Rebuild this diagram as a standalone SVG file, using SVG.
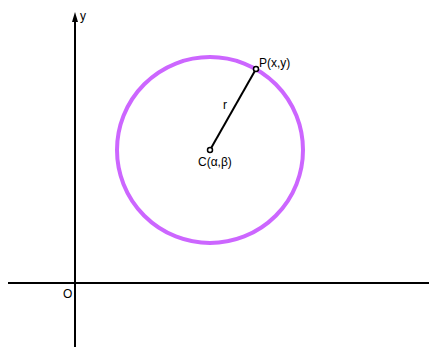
<svg xmlns="http://www.w3.org/2000/svg" width="429" height="347" viewBox="0 0 429 347">
<style>
text{font-family:"Liberation Sans",Arial,sans-serif;font-size:12px;fill:#000}
.axis{stroke:#000;stroke-width:2;fill:none}
.pt{fill:#fff;stroke:#000;stroke-width:1.5}
</style>
<rect width="429" height="347" fill="#fff"/>
<g id="axes">
<line class="axis" x1="75" y1="347" x2="75" y2="20"/>
<path d="M72,22 L75,12 L78,22 Z" fill="#000"/>
<line class="axis" x1="8" y1="283" x2="429" y2="283"/>
<text x="80" y="20">y</text>
<text x="63" y="298">O</text>
</g>
<g id="circle">
<circle cx="210" cy="150" r="93" fill="none" stroke="#cc66ff" stroke-width="4"/>
</g>
<g id="connectors">
<line x1="210" y1="150" x2="256" y2="69" stroke="#000" stroke-width="2"/>
</g>
<g id="center">
<circle class="pt" cx="210" cy="150" r="2.5"/>
<text x="198" y="166">C(α,β)</text>
</g>
<g id="point">
<circle class="pt" cx="256" cy="69" r="2.5"/>
<text x="259" y="67">P(x,y)</text>
</g>
<text x="223" y="109">r</text>
</svg>
